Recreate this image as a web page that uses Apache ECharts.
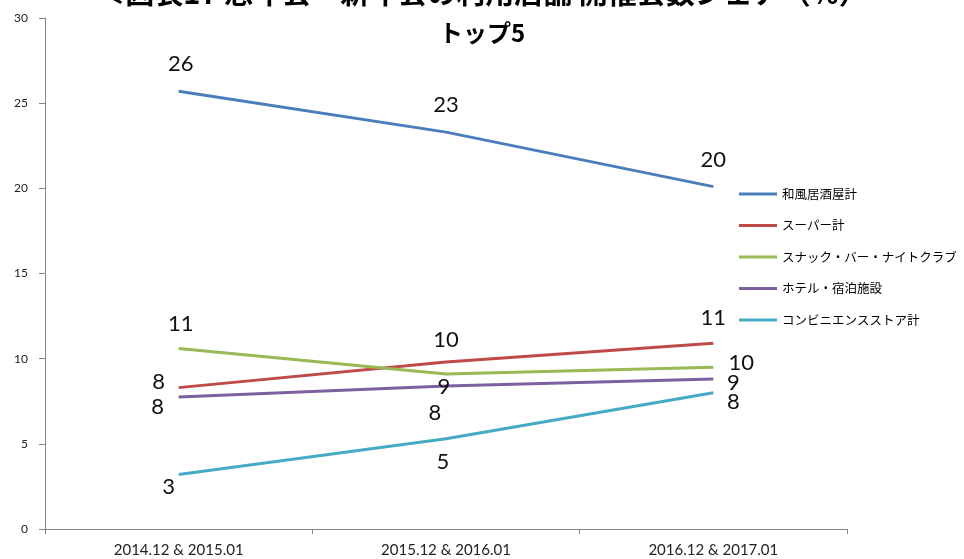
<!DOCTYPE html>
<html lang="ja">
<head>
<meta charset="utf-8">
<title>忘年会・新年会の利用店舗</title>
<script src="https://cdn.jsdelivr.net/npm/echarts@6/dist/echarts.min.js"></script>
<style>
  html, body { margin: 0; padding: 0; background: #fff; }
  #chart { width: 964px; height: 559px; }
</style>
</head>
<body>
<div id="chart"></div>
<script type="text/javascript">
    // データ
    var categories = ['2014.12 & 2015.01', '2015.12 & 2016.01', '2016.12 & 2017.01'];
    var seriesNames = ['和風居酒屋計', 'スーパー計', 'スナック・バー・ナイトクラブ', 'ホテル・宿泊施設', 'コンビニエンスストア計'];
    var washoku = [25.7, 23.3, 20.1];
    var super_ = [8.3, 9.8, 10.9];
    var snack = [10.6, 9.1, 9.5];
    var hotel = [7.75, 8.4, 8.8];
    var conveni = [3.2, 5.3, 8.0];
    var yTicks = [0, 5, 10, 15, 20, 25, 30];

    // 見た目
    var colors = ['#4a7ebb', '#be4b48', '#98b954', '#7d60a0', '#46aac5'];
    // ラベル位置 (点からのずれ)
    var labelOffsets = [
        [[2, -27], [0, -27], [0, -27]],
        [[-20, -6], [0, -22], [0, -25]],
        [[2, -25], [-2, 13], [28, -4]],
        [[-21, 10], [-11, 27], [20, 4]],
        [[-10, 12], [-3, 23], [20, 9]]
    ];

    var allValues = [washoku, super_, snack, hotel, conveni];

    var series = allValues.map(function (vals, i) {
        return {
            name: seriesNames[i],
            type: 'line',
            showSymbol: true,
            symbol: 'circle',
            symbolSize: 0.1,
            lineStyle: { width: 3, color: colors[i] },
            itemStyle: { color: colors[i] },
            data: vals.map(function (v, j) {
                return {
                    value: v,
                    label: {
                        show: true,
                        position: 'inside',
                        offset: labelOffsets[i][j],
                        formatter: function (p) { return Math.round(p.value); },
                        fontFamily: 'Lato',
                        fontSize: 22,
                        opacity: 1,
                        color: '#111'
                    }
                };
            })
        };
    });

    var myChart = echarts.init(document.getElementById('chart'));
    var option = {
        animation: false,
        backgroundColor: '#fff',
        color: colors,
        title: {
            text: '{a|＜図表17 忘年会・新年会の利用店舗 開催会数シェア（%）}\n{b|トップ5}',
            left: 'center',
            top: -37,
            padding: [5, 5, 5, 27],
            textStyle: {
                fontFamily: 'Noto Sans CJK JP',
                fontWeight: 'bold',
                color: '#000',
                rich: {
                    a: { fontSize: 29, lineHeight: 50, fontWeight: 'bold', fontFamily: 'Noto Sans CJK JP', color: '#000' },
                    b: { fontSize: 24, lineHeight: 30, fontWeight: 'bold', fontFamily: 'Noto Sans CJK JP', color: '#000' }
                }
            }
        },
        legend: {
            orient: 'vertical',
            left: 734,
            top: 182,
            icon: 'rect',
            itemWidth: 38,
            itemHeight: 3,
            itemGap: 17.5,
            data: seriesNames,
            textStyle: {
                fontFamily: 'Noto Sans CJK JP',
                fontSize: 12.5,
                lineHeight: 14,
                color: '#000'
            }
        },
        grid: {
            left: 45,
            right: 117,
            top: 18,
            bottom: 30,
            containLabel: false
        },
        xAxis: {
            type: 'category',
            data: categories,
            boundaryGap: true,
            axisLine: { lineStyle: { color: '#868686', width: 1 } },
            axisTick: { show: true, length: 5, lineStyle: { color: '#868686' } },
            axisLabel: {
                margin: 14,
                fontFamily: 'Lato',
                fontSize: 15,
                color: '#222'
            }
        },
        yAxis: {
            type: 'value',
            min: yTicks[0],
            max: yTicks[yTicks.length - 1],
            interval: 5,
            splitLine: { show: false },
            axisLine: { show: true, lineStyle: { color: '#868686', width: 1 } },
            axisTick: { show: true, length: 6, lineStyle: { color: '#868686' } },
            axisLabel: {
                margin: 17,
                fontFamily: 'Lato',
                fontSize: 12,
                color: '#222'
            }
        },
        series: series
    };
    myChart.setOption(option);
</script>
</body>
</html>
